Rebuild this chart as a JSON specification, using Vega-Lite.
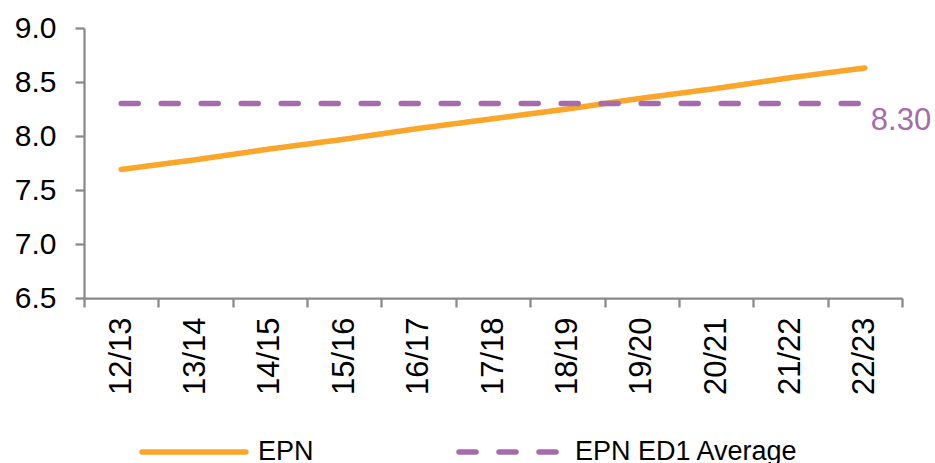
{
  "$schema": "https://vega.github.io/schema/vega-lite/v6.json",
  "width": 818,
  "height": 270,
  "autosize": {"type": "none"},
  "padding": {"left": 84, "top": 28, "right": 33, "bottom": 165},
  "background": "white",
  "config": {
    "view": {"stroke": null},
    "font": "Liberation Sans",
    "axis": {
      "grid": false,
      "title": null,
      "domainColor": "#898989",
      "domainWidth": 2.25,
      "tickColor": "#898989",
      "tickWidth": 2.25,
      "tickSize": 9,
      "labelColor": "#000000",
      "labelFont": "Liberation Sans",
      "labelFontSize": 30
    }
  },
  "data": {
    "values": [
      {"period": "12/13", "series": "EPN", "value": 7.69},
      {"period": "13/14", "series": "EPN", "value": 7.78},
      {"period": "14/15", "series": "EPN", "value": 7.88},
      {"period": "15/16", "series": "EPN", "value": 7.97},
      {"period": "16/17", "series": "EPN", "value": 8.07},
      {"period": "17/18", "series": "EPN", "value": 8.16},
      {"period": "18/19", "series": "EPN", "value": 8.25},
      {"period": "19/20", "series": "EPN", "value": 8.35},
      {"period": "20/21", "series": "EPN", "value": 8.44},
      {"period": "21/22", "series": "EPN", "value": 8.54},
      {"period": "22/23", "series": "EPN", "value": 8.63},
      {"period": "12/13", "series": "EPN ED1 Average", "value": 8.30},
      {"period": "13/14", "series": "EPN ED1 Average", "value": 8.30},
      {"period": "14/15", "series": "EPN ED1 Average", "value": 8.30},
      {"period": "15/16", "series": "EPN ED1 Average", "value": 8.30},
      {"period": "16/17", "series": "EPN ED1 Average", "value": 8.30},
      {"period": "17/18", "series": "EPN ED1 Average", "value": 8.30},
      {"period": "18/19", "series": "EPN ED1 Average", "value": 8.30},
      {"period": "19/20", "series": "EPN ED1 Average", "value": 8.30},
      {"period": "20/21", "series": "EPN ED1 Average", "value": 8.30},
      {"period": "21/22", "series": "EPN ED1 Average", "value": 8.30},
      {"period": "22/23", "series": "EPN ED1 Average", "value": 8.30}
    ]
  },
  "layer": [
    {
      "mark": {"type": "line", "strokeWidth": 5.5, "strokeCap": "round"},
      "encoding": {
        "x": {
          "field": "period",
          "type": "ordinal",
          "scale": {"type": "band", "paddingInner": 0, "paddingOuter": 0},
          "axis": {"labelAngle": -90, "labelPadding": 10, "labelFontSize": 31, "tickBand": "extent"}
        },
        "y": {
          "field": "value",
          "type": "quantitative",
          "scale": {"domain": [6.5, 9.0], "nice": false, "zero": false},
          "axis": {"values": [6.5, 7.0, 7.5, 8.0, 8.5, 9.0], "format": ".1f", "labelPadding": 19}
        },
        "color": {
          "field": "series",
          "type": "nominal",
          "scale": {"domain": ["EPN", "EPN ED1 Average"], "range": ["#F9A62A", "#A56BAA"]},
          "legend": {
            "orient": "none",
            "legendX": 55,
            "legendY": 369,
            "direction": "horizontal",
            "title": null,
            "symbolType": "stroke",
            "symbolSize": 10800,
            "symbolStrokeWidth": 5.5,
            "labelFont": "Liberation Sans",
            "labelFontSize": 27,
            "labelColor": "#000000",
            "labelOffset": 9,
            "labelLimit": 0,
            "columnPadding": 134,
            "padding": 0,
            "encode": {"symbols": {"update": {"strokeCap": {"value": "round"}}}}
          }
        },
        "strokeDash": {
          "field": "series",
          "type": "nominal",
          "scale": {"domain": ["EPN", "EPN ED1 Average"], "range": [[1, 0], [17, 23]]},
          "legend": {
            "orient": "none",
            "legendX": 55,
            "legendY": 369,
            "direction": "horizontal",
            "title": null,
            "symbolType": "stroke",
            "symbolSize": 10800,
            "symbolStrokeWidth": 5.5,
            "labelFont": "Liberation Sans",
            "labelFontSize": 27,
            "labelColor": "#000000",
            "labelOffset": 9,
            "labelLimit": 0,
            "columnPadding": 134,
            "padding": 0,
            "encode": {"symbols": {"update": {"strokeCap": {"value": "round"}}}}
          }
        }
      }
    },
    {
      "transform": [{"filter": "datum.series === 'EPN ED1 Average' && datum.period === '22/23'"}],
      "mark": {"type": "text", "align": "left", "baseline": "middle", "dx": 6, "dy": 17, "fontSize": 31, "color": "#A56BAA", "font": "Liberation Sans"},
      "encoding": {
        "x": {"field": "period", "type": "ordinal"},
        "y": {"field": "value", "type": "quantitative"},
        "text": {"field": "value", "type": "quantitative", "format": ".2f"}
      }
    }
  ]
}
